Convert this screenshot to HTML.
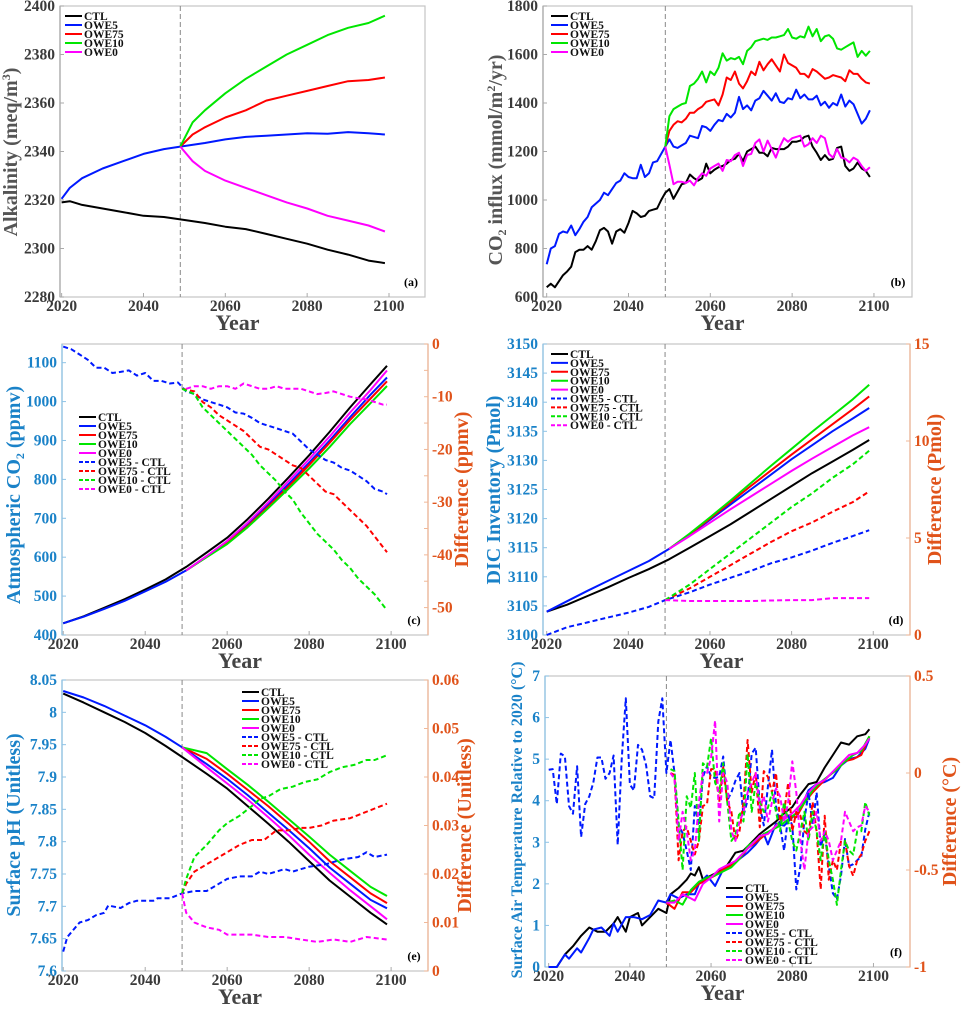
<!DOCTYPE html>
<html><head><meta charset="utf-8"><style>
body{margin:0;background:#fff;}
svg{display:block;font-family:"Liberation Serif",serif;font-weight:bold;}
</style></head><body>
<svg id="fig" width="966" height="1009" viewBox="0 0 966 1009" xmlns="http://www.w3.org/2000/svg"></svg>
<script>
function seq(a,b){const r=[];for(let i=a;i<=b;i++)r.push(i);return r;}
// ---------- Panel (a) alkalinity ----------
const aCtlYears=[2020,2022,2025,2030,2035,2040,2045,2049,2055,2060,2065,2070,2075,2080,2085,2090,2095,2099];
const aCtl=[2319,2319.5,2318,2316.5,2315,2313.5,2313,2312,2310.5,2309,2308,2306,2304,2302,2299.5,2297.5,2295,2294];
const aOwe5Years=[2020,2022,2025,2030,2035,2040,2045,2049,2055,2060,2065,2070,2075,2080,2085,2090,2095,2099];
const aOwe5=[2320.5,2325,2329,2333,2336,2339,2341,2342,2343.5,2345,2346,2346.5,2347,2347.5,2347.3,2348,2347.5,2347];
const aPostYears=[2049,2052,2055,2060,2065,2070,2075,2080,2085,2090,2095,2099];
const aOwe10=[2342,2352,2357,2364,2370,2375,2380,2384,2388,2391,2393,2396];
const aOwe75=[2342,2347,2350,2354,2357,2361,2363,2365,2367,2369,2369.5,2370.5];
const aOwe0=[2342,2336,2332,2328,2325,2322,2319,2316.5,2313.5,2311.5,2309.5,2307];
const aYTicks=[2280,2300,2320,2340,2360,2380,2400];
const xTicks=[2020,2040,2060,2080,2100];
// ---------- Panel (b) CO2 influx ----------
const bYears=seq(2020,2099);
const bPostYears=seq(2049,2099);
const bOwe5=[735,800,810,860,870,865,895,855,880,910,930,970,985,1000,1030,1020,1045,1070,1080,1110,1095,1090,1090,1145,1095,1110,1155,1160,1190,1220,1250,1220,1215,1225,1235,1265,1260,1255,1305,1300,1285,1310,1330,1325,1355,1340,1360,1425,1375,1390,1370,1410,1420,1450,1430,1410,1440,1405,1400,1420,1415,1455,1420,1435,1415,1415,1430,1390,1405,1380,1400,1390,1435,1385,1410,1395,1355,1315,1335,1370];
const bCtl=[640,655,640,665,690,705,725,785,795,795,810,795,830,875,885,870,820,870,880,865,905,955,945,930,935,955,960,965,1000,1030,1045,1005,1035,1065,1070,1105,1090,1080,1090,1150,1110,1125,1135,1140,1150,1165,1170,1190,1160,1200,1210,1220,1195,1195,1180,1215,1210,1210,1210,1220,1240,1240,1245,1260,1265,1220,1195,1165,1185,1165,1170,1215,1220,1140,1120,1130,1155,1130,1120,1095];
const bOwe10=[1220,1345,1375,1385,1395,1400,1470,1480,1500,1530,1485,1530,1515,1545,1605,1575,1585,1580,1590,1560,1615,1630,1655,1660,1665,1660,1670,1670,1675,1680,1705,1670,1665,1675,1670,1715,1675,1705,1655,1675,1680,1665,1625,1620,1630,1640,1650,1590,1615,1595,1615];
const bOwe75=[1220,1285,1310,1325,1320,1335,1360,1360,1375,1385,1405,1410,1415,1390,1435,1505,1495,1530,1480,1460,1490,1530,1515,1570,1535,1560,1580,1555,1530,1600,1565,1555,1545,1520,1520,1505,1540,1530,1515,1500,1505,1515,1510,1505,1490,1535,1520,1520,1500,1485,1480];
const bOwe0=[1220,1145,1065,1075,1075,1070,1080,1060,1090,1110,1100,1130,1140,1150,1120,1165,1160,1185,1195,1140,1185,1190,1235,1250,1200,1245,1210,1175,1220,1255,1240,1255,1260,1265,1220,1230,1255,1235,1265,1255,1190,1175,1210,1175,1170,1155,1175,1165,1140,1120,1135];
const bYTicks=[600,800,1000,1200,1400,1600,1800];
// ---------- Panel (c) atmospheric CO2 ----------
const cYears=[2020,2025,2030,2035,2040,2045,2050,2055,2060,2065,2070,2075,2080,2085,2090,2095,2099];
const cPostYears=[2050,2055,2060,2065,2070,2075,2080,2085,2090,2095,2099];
const cCtl=[430,448,470,492,517,543,575,612,650,698,750,805,862,922,985,1045,1092];
const cOwe5=[430,447,467,488,512,537,566,602,638,684,735,788,843,900,960,1018,1062];
const cOwe75=[566,601,636,680,730,782,837,894,953,1008,1052];
const cOwe10=[566,600,634,677,726,776,828,883,942,996,1040];
const cOwe0=[566,603,642,689,741,796,852,910,972,1030,1080];
const cD5Years=[2020,2022,2024,2026,2028,2030,2032,2034,2036,2038,2040,2042,2044,2046,2048,2050,2052,2054,2056,2058,2060,2062,2064,2066,2068,2070,2072,2074,2076,2078,2080,2082,2084,2086,2088,2090,2092,2094,2096,2098,2099];
const cD5=[-0.5,-1,-2,-3,-4.5,-4.5,-5.5,-5.3,-5,-6,-5.5,-7,-7,-7.5,-7.3,-9,-9.5,-10.5,-11,-11.5,-12,-13,-13.2,-14,-15,-15.5,-16,-16.5,-17,-18.5,-20,-21,-22,-22.5,-23.5,-24,-25,-26,-27.5,-28,-28.5];
const cDPostYears=[2049,2052,2054,2056,2058,2060,2062,2064,2066,2068,2070,2072,2074,2076,2078,2080,2082,2084,2086,2088,2090,2092,2094,2096,2098,2099];
const cD75=[-8.5,-9,-11,-12,-13.5,-14.5,-15.5,-16.5,-18,-19.5,-20,-21,-22,-23,-23.5,-25,-26.5,-28,-28.5,-30,-31.5,-33,-34.5,-36.5,-38.5,-39.5];
const cD10=[-8.5,-9.5,-12,-13.5,-15,-16.5,-18,-19.5,-21,-23,-24.5,-26,-28,-29.5,-32,-34,-36,-37.5,-39,-41,-42.5,-44.5,-46,-47.5,-49.5,-50.5];
const cD0Years=[2050,2052,2054,2056,2058,2060,2062,2064,2066,2068,2070,2072,2074,2076,2078,2080,2082,2084,2086,2088,2090,2092,2094,2096,2098,2099];
const cD0=[-8.5,-8,-8,-8.5,-8,-8,-8.5,-7.5,-8,-8.5,-8.5,-8,-8.5,-8.5,-8.5,-9,-9.5,-9.3,-9,-9.5,-10,-10.3,-10.5,-11,-11.5,-11.5];
const cYTicks=[400,500,600,700,800,900,1000,1100];
const cRTicks=[0,-10,-20,-30,-40,-50];
// ---------- Panel (d) DIC inventory ----------
const dYears=[2020,2025,2030,2035,2040,2045,2050,2055,2060,2065,2070,2075,2080,2085,2090,2095,2099];
const dPostYears=[2050,2055,2060,2065,2070,2075,2080,2085,2090,2095,2099];
const dCtl=[3104,3105.2,3106.7,3108.2,3109.8,3111.3,3113,3115,3117,3119,3121.2,3123.4,3125.6,3127.8,3129.8,3131.8,3133.5];
const dOwe5=[3104,3105.8,3107.6,3109.3,3111,3112.7,3114.8,3117.2,3119.8,3122.4,3125,3127.6,3130.2,3132.6,3135,3137.2,3139];
const dOwe75=[3114.8,3117.3,3120,3122.8,3125.6,3128.3,3131,3133.6,3136.2,3138.8,3141];
const dOwe10=[3114.8,3117.4,3120.2,3123.1,3126.1,3129.1,3132,3134.9,3137.7,3140.5,3143];
const dOwe0=[3114.8,3117,3119.3,3121.6,3123.8,3126,3128.2,3130.3,3132.3,3134.3,3135.7];
const dD5Years=[2020,2025,2030,2035,2040,2045,2049,2055,2060,2065,2070,2075,2080,2085,2090,2095,2099];
const dD5=[0,0.4,0.65,0.9,1.15,1.45,1.8,2.2,2.6,2.95,3.3,3.7,4.0,4.35,4.75,5.1,5.4];
const dDPostYears=[2049,2055,2060,2065,2070,2075,2080,2085,2090,2095,2099];
const dD75=[1.8,2.4,3.0,3.6,4.2,4.8,5.35,5.8,6.35,6.85,7.4];
const dD10=[1.8,2.6,3.4,4.2,5.0,5.8,6.6,7.3,8.1,8.8,9.5];
const dD0=[1.8,1.75,1.75,1.75,1.75,1.78,1.8,1.8,1.9,1.9,1.9];
const dYTicks=[3100,3105,3110,3115,3120,3125,3130,3135,3140,3145,3150];
const dRTicks=[0,5,10,15];
// ---------- Panel (e) surface pH ----------
const eYears=[2020,2025,2030,2035,2040,2045,2049,2055,2060,2065,2070,2075,2080,2085,2090,2095,2099];
const eCtl=[8.029,8.015,8.0,7.985,7.968,7.948,7.931,7.905,7.882,7.855,7.828,7.8,7.77,7.74,7.715,7.69,7.672];
const eOwe5=[8.033,8.023,8.01,7.995,7.98,7.962,7.946,7.92,7.897,7.872,7.845,7.818,7.79,7.76,7.735,7.71,7.697];
const ePostYears=[2049,2055,2060,2065,2070,2075,2080,2085,2090,2095,2099];
const eOwe75=[7.946,7.928,7.905,7.88,7.855,7.828,7.80,7.77,7.745,7.72,7.705];
const eOwe10=[7.946,7.937,7.912,7.888,7.862,7.835,7.808,7.78,7.755,7.73,7.716];
const eOwe0=[7.946,7.915,7.89,7.865,7.838,7.81,7.78,7.752,7.725,7.7,7.68];
const eD5Years=[2020,2021,2022,2024,2026,2028,2030,2031,2034,2036,2038,2040,2042,2043,2046,2049,2052,2055,2058,2060,2063,2066,2068,2070,2074,2076,2080,2084,2088,2092,2094,2096,2099];
const eD5=[0.004,0.007,0.008,0.01,0.0105,0.0115,0.012,0.0135,0.013,0.014,0.0145,0.0145,0.0145,0.015,0.015,0.016,0.0165,0.0165,0.018,0.019,0.0195,0.0195,0.0205,0.02,0.021,0.0205,0.0215,0.022,0.023,0.0235,0.0245,0.0235,0.024];
const eD75Years=[2049,2050,2052,2055,2058,2060,2063,2066,2069,2072,2075,2078,2080,2083,2086,2090,2093,2096,2099];
const eD75=[0.016,0.018,0.0205,0.022,0.0235,0.0245,0.026,0.027,0.027,0.029,0.029,0.0295,0.0295,0.030,0.031,0.0315,0.0325,0.0335,0.0345];
const eD10Years=[2049,2050,2052,2055,2058,2060,2063,2066,2068,2070,2073,2076,2079,2082,2085,2088,2091,2094,2096,2099];
const eD10=[0.016,0.019,0.0235,0.026,0.029,0.0305,0.032,0.034,0.0355,0.036,0.0375,0.038,0.039,0.0395,0.041,0.042,0.0425,0.0435,0.0435,0.0445];
const eD0Years=[2049,2050,2052,2055,2058,2060,2063,2066,2070,2074,2078,2082,2086,2090,2094,2099];
const eD0=[0.016,0.012,0.01,0.009,0.0085,0.0075,0.0075,0.0075,0.007,0.007,0.0065,0.006,0.0065,0.006,0.007,0.0065];
const eYTicks=[7.6,7.65,7.7,7.75,7.8,7.85,7.9,7.95,8,8.05];
const eYTickLabels=["7.6","7.65","7.7","7.75","7.8","7.85","7.9","7.95","8","8.05"];
const eRTicks=[0,0.01,0.02,0.03,0.04,0.05,0.06];
// ---------- Panel (f) surface air temperature ----------
const fCtlYears=[2020,2022,2024,2026,2028,2030,2032,2034,2036,2037,2039,2040,2042,2043,2045,2047,2049,2050,2052,2054,2055,2056,2057,2058,2060,2062,2064,2066,2068,2070,2072,2074,2076,2078,2080,2082,2084,2086,2088,2090,2092,2094,2096,2098,2099];
const fCtl=[0,0,0.3,0.5,0.75,0.95,0.85,0.85,1.05,1.2,0.85,1.2,1.3,1.0,1.2,1.4,1.3,1.75,1.9,2.1,2.25,2.2,2.4,2.1,2.2,2.3,2.45,2.75,2.8,3.0,3.2,3.35,3.5,3.7,3.85,4.15,4.4,4.45,4.8,5.1,5.4,5.35,5.55,5.6,5.72];
const fOwe5Years=[2020,2022,2024,2025,2027,2028,2030,2031,2033,2035,2036,2037,2039,2041,2043,2045,2047,2049,2050,2052,2054,2056,2057,2059,2061,2063,2065,2067,2069,2071,2073,2074,2076,2078,2080,2082,2084,2086,2088,2090,2092,2094,2096,2098,2099];
const fOwe5=[0,0,0.3,0.2,0.45,0.35,0.7,0.9,0.95,0.75,1.05,0.85,1.2,1.2,1.15,1.25,1.6,1.55,1.75,1.65,1.75,1.75,2.0,2.2,1.95,2.35,2.45,2.6,2.75,2.95,3.2,2.95,3.45,3.4,3.6,3.8,4.25,4.4,4.45,4.55,4.85,5.0,5.05,5.25,5.5];
const fPostYears=[2049,2051,2053,2055,2057,2059,2061,2063,2065,2067,2069,2071,2073,2075,2077,2079,2081,2083,2085,2087,2089,2091,2093,2095,2097,2099];
const fOwe75=[1.55,1.4,1.8,1.8,2.0,2.1,2.2,2.35,2.45,2.6,2.85,3.0,3.15,3.3,3.5,3.65,3.6,3.95,4.2,4.4,4.6,4.75,4.95,5.0,5.1,5.55];
const fOwe10=[1.55,1.6,1.5,1.85,2.05,2.15,2.2,2.3,2.4,2.6,2.9,3.05,3.2,3.3,3.4,3.55,3.7,3.95,4.25,4.45,4.6,4.75,4.95,5.1,5.2,5.55];
const fOwe0Years=[2049,2051,2053,2055,2056,2058,2060,2062,2064,2066,2068,2070,2072,2074,2076,2078,2080,2082,2084,2086,2088,2090,2092,2094,2096,2098,2099];
const fOwe0=[1.55,1.55,1.75,1.65,1.6,2.0,2.15,2.35,2.45,2.55,2.75,2.95,3.15,3.2,3.4,3.55,3.7,3.9,4.2,4.4,4.5,4.7,4.9,5.1,5.15,5.35,5.5];
const fD5Years=seq(2020,2099);
const fD5=[0.017,0.02,-0.16,0.1,0.085,-0.17,-0.21,0.035,-0.33,-0.16,-0.12,-0.05,0.08,0.08,-0.03,0,0.09,-0.37,0.07,0.385,-0.06,-0.09,0.145,0.12,0.04,-0.12,-0.13,0.265,0.385,0,0.17,0,-0.27,-0.31,-0.4,-0.5,-0.17,-0.27,-0.02,0.035,-0.02,-0.025,-0.02,0.085,-0.14,-0.1,-0.04,0,-0.22,-0.14,0.1,0.13,-0.17,-0.27,-0.07,0.12,-0.17,-0.27,-0.4,-0.22,-0.27,-0.6,-0.48,-0.24,-0.1,-0.27,-0.1,-0.38,-0.31,-0.48,-0.62,-0.65,-0.53,-0.34,-0.48,-0.47,-0.45,-0.43,-0.29,-0.2];
const fDPostYears=seq(2050,2099);
const fD75=[0,-0.01,-0.45,-0.3,-0.28,-0.35,-0.42,-0.35,-0.17,-0.16,0.02,0.02,-0.15,0.03,-0.15,-0.2,-0.35,-0.3,-0.15,0.17,-0.1,0,-0.28,0.01,-0.02,-0.1,0.0,-0.25,-0.2,-0.05,-0.3,-0.2,-0.22,-0.3,-0.32,-0.15,-0.3,-0.6,-0.22,-0.55,-0.45,-0.5,-0.35,-0.35,-0.48,-0.53,-0.45,-0.42,-0.35,-0.3];
const fD10=[0.02,0.01,-0.25,-0.5,-0.12,-0.18,0.0,-0.35,0.05,0.03,0.18,-0.05,-0.1,0.05,-0.15,-0.35,-0.32,-0.2,-0.25,0.1,-0.2,-0.05,-0.15,-0.2,-0.18,-0.1,-0.2,-0.3,-0.15,-0.25,-0.35,-0.4,-0.3,-0.2,-0.35,-0.2,-0.3,-0.45,-0.3,-0.45,-0.55,-0.68,-0.5,-0.35,-0.4,-0.42,-0.3,-0.3,-0.15,-0.22];
const fD0=[0,-0.03,-0.35,-0.2,-0.3,-0.45,-0.4,-0.15,0.0,0.0,0.08,0.27,-0.25,0.0,-0.05,-0.3,-0.35,-0.25,-0.2,-0.1,-0.05,0.0,-0.18,-0.12,-0.25,-0.15,-0.08,-0.12,-0.25,-0.15,0.06,-0.1,-0.35,-0.5,-0.3,-0.28,-0.2,-0.35,-0.3,-0.35,-0.45,-0.4,-0.35,-0.2,-0.25,-0.3,-0.28,-0.27,-0.17,-0.2];
const fYTicks=[0,1,2,3,4,5,6,7];
const fRTicks=[0.5,0,-0.5,-1];

const legendNames=["CTL","OWE5","OWE75","OWE10","OWE0","OWE5 - CTL","OWE75 - CTL","OWE10 - CTL","OWE0 - CTL"];
const COL={k:"#000",b:"#0019ff",r:"#ff0000",g:"#00e600",m:"#ff00ff"};
const BLUE="#1a82c8", ORANGE="#e0531a", GREY="#3a3a3a";
const NS="http://www.w3.org/2000/svg";
const svg=document.getElementById("fig");
function el(tag,attrs,parent,text){const e=document.createElementNS(NS,tag);for(const k in attrs)e.setAttribute(k,attrs[k]);if(text!==undefined)e.textContent=text;(parent||svg).appendChild(e);return e;}

function panel(p){
  const g=el("g",{},svg);
  
  
  const sx=v=>p.L+(v-p.x0)/(p.x1-p.x0)*(p.R-p.L);
  const sy=v=>p.B-(v-p.y0)/(p.y1-p.y0)*(p.B-p.T);
  const sr=p.r0!==undefined?(v=>p.B-(v-p.r0)/(p.r1-p.r0)*(p.B-p.T)):null;
  const frame=el("rect",{x:p.L,y:p.T,width:p.R-p.L,height:p.B-p.T,fill:"none",stroke:"#c4c4c4","stroke-width":1.2},g);
  
  
  const lc=p.dual?"#8ec3e6":"#aaa";
  const la=el("line",{x1:p.L,y1:p.T,x2:p.L,y2:p.B,stroke:lc,"stroke-width":1.3},g);
  
  
  xTicks.forEach(t=>{
    const x=sx(t);
    el("line",{x1:x,y1:p.B,x2:x,y2:p.B-4,stroke:"#aaa"},g);
    const tl=el("text",{x:x,y:p.B+14,"text-anchor":"middle","font-size":15.5,fill:GREY},g,String(t));
    
    
  });
  p.yt.forEach((t,i)=>{
    const y=sy(t);
    el("line",{x1:p.L,y1:y,x2:p.L+4,y2:y,stroke:lc},g);
    const tl=el("text",{x:p.L-5,y:y+5,"text-anchor":"end","font-size":15.5,fill:p.dual?BLUE:GREY},g,p.ytl?p.ytl[i]:String(t));
    
    
  });
  if(sr){
    const ra=el("line",{x1:p.R,y1:p.T,x2:p.R,y2:p.B,stroke:"#f0b898","stroke-width":1.3},g);
    
    
    if(p.rminor)p.rminor.forEach(t=>{const y=sr(t);el("line",{x1:p.R,y1:y,x2:p.R-4,y2:y,stroke:"#f0b898"},g);});
    p.rt.forEach(t=>{
      const y=sr(t);
      el("line",{x1:p.R,y1:y,x2:p.R-4,y2:y,stroke:"#f0b898"},g);
      const tl=el("text",{x:p.R+4,y:y+5,"font-size":15.5,fill:ORANGE},g,String(t));
      
      
    });
    const rl=el("text",{transform:`translate(${p.rlx},${(p.T+p.B)/2}) rotate(-90)`,"text-anchor":"middle","font-size":20,fill:ORANGE},g,p.rlabel);
    
    
  }
  const vl=el("line",{x1:sx(2049),y1:p.T,x2:sx(2049),y2:p.B,stroke:"#888","stroke-width":1,"stroke-dasharray":"5,3"},g);
  
  
  p.series.forEach(s=>{
    const f=s.right?sr:sy;
    const d=s.x.map((xv,i)=>(i?"L":"M")+sx(xv).toFixed(1)+","+f(s.y[i]).toFixed(1)).join("");
    const pa=el("path",{d:d,fill:"none",stroke:COL[s.c],"stroke-width":2,"stroke-linejoin":"round","stroke-dasharray":s.right?"5,3":"none"},g);
    
    
  });
  const lg=el("g",{},g);
  
  
  const cs=["k","b","r","g","m","b","r","g","m"];
  for(let i=0;i<p.nleg;i++){
    const y=p.lgy+i*p.lgs;
    el("line",{x1:p.lgx,y1:y,x2:p.lgx+17,y2:y,stroke:COL[cs[i]],"stroke-width":2,"stroke-dasharray":i>=5?"4,2":"none"},lg);
    const t=el("text",{x:p.lgx+19,y:y+4,"font-size":11.5,fill:"#111"},lg,legendNames[i]);
    
    
  }
  const tag=el("text",{x:p.R-14,y:p.B-11,"text-anchor":"middle","font-size":12,fill:"#000"},g,p.tag);
  
  
  const xl=el("text",{x:(p.L+p.R)/2-5,y:p.B+33+(p.xly||0),"text-anchor":"middle","font-size":22,fill:"#444"},g,"Year");
  
  
  const yl=el("text",{transform:`translate(${p.llx},${p.lly||(p.T+p.B)/2}) rotate(-90)`,"text-anchor":"middle","font-size":p.lfs||20,fill:p.dual?BLUE:"#555"},g);
  
  
  p.llabel.forEach(part=>{el("tspan",part.sub?{"font-size":12,dy:4}:part.sup?{"font-size":12,dy:-7}:part.back?{dy:part.back}:{},yl,part.t);});
}

panel({id:"a",L:60,R:425,T:6,B:297,x0:2019.6,x1:2108.8,y0:2280,y1:2400,yt:aYTicks,llx:17,lly:152,
  llabel:[{t:"Alkalinity (meq/m"},{t:"3",sup:1},{t:")",back:7}],
  series:[{x:aCtlYears,y:aCtl,c:"k",n:"CTL"},{x:aOwe5Years,y:aOwe5,c:"b",n:"OWE5"},{x:aPostYears,y:aOwe75,c:"r",n:"OWE75"},{x:aPostYears,y:aOwe10,c:"g",n:"OWE10"},{x:aPostYears,y:aOwe0,c:"m",n:"OWE0"}],
  nleg:5,lgx:65,lgy:16,lgs:9,tag:"(a)"});
panel({id:"b",L:543,R:912,T:6,B:297,x0:2019.1,x1:2109.3,y0:600,y1:1800,yt:bYTicks,llx:502,lly:160,
  llabel:[{t:"CO"},{t:"2",sub:1},{t:" influx (mmol/m",back:-4},{t:"2",sup:1},{t:"/yr)",back:7}],
  series:[{x:bYears,y:bCtl,c:"k",n:"CTL"},{x:bYears,y:bOwe5,c:"b",n:"OWE5"},{x:bPostYears,y:bOwe75,c:"r",n:"OWE75"},{x:bPostYears,y:bOwe10,c:"g",n:"OWE10"},{x:bPostYears,y:bOwe0,c:"m",n:"OWE0"}],
  nleg:5,lgx:551,lgy:16,lgs:9,tag:"(b)"});
panel({id:"c",dual:1,L:62,R:428,T:344,B:635,x0:2019.7,x1:2109,y0:400,y1:1148,yt:cYTicks,r0:-55.2,r1:0,rt:cRTicks,rminor:[-5,-15,-25,-35,-45],
  rlx:468,rlabel:"Difference (ppmv)",llx:20,lly:495,
  llabel:[{t:"Atmospheric CO"},{t:"2",sub:1},{t:" (ppmv)",back:-4}],
  series:[{x:cYears,y:cCtl,c:"k",n:"CTL"},{x:cYears,y:cOwe5,c:"b",n:"OWE5"},{x:cPostYears,y:cOwe75,c:"r",n:"OWE75"},{x:cPostYears,y:cOwe10,c:"g",n:"OWE10"},{x:cPostYears,y:cOwe0,c:"m",n:"OWE0"},
    {x:cD5Years,y:cD5,c:"b",n:"OWE5 - CTL",right:1},{x:cDPostYears,y:cD75,c:"r",n:"OWE75 - CTL",right:1},{x:cDPostYears,y:cD10,c:"g",n:"OWE10 - CTL",right:1},{x:cD0Years,y:cD0,c:"m",n:"OWE0 - CTL",right:1}],
  nleg:9,lgx:79,lgy:417,lgs:9,tag:"(c)"});
panel({id:"d",dual:1,L:543,R:910,T:344,B:635,x0:2019.1,x1:2109,y0:3100,y1:3150,yt:dYTicks,r0:0,r1:15,rt:dRTicks,
  rlx:941,rlabel:"Difference (Pmol)",llx:500,lly:490,
  llabel:[{t:"DIC Inventory (Pmol)"}],
  series:[{x:dYears,y:dCtl,c:"k",n:"CTL"},{x:dYears,y:dOwe5,c:"b",n:"OWE5"},{x:dPostYears,y:dOwe75,c:"r",n:"OWE75"},{x:dPostYears,y:dOwe10,c:"g",n:"OWE10"},{x:dPostYears,y:dOwe0,c:"m",n:"OWE0"},
    {x:dD5Years,y:dD5,c:"b",n:"OWE5 - CTL",right:1},{x:dDPostYears,y:dD75,c:"r",n:"OWE75 - CTL",right:1},{x:dDPostYears,y:dD10,c:"g",n:"OWE10 - CTL",right:1},{x:dDPostYears,y:dD0,c:"m",n:"OWE0 - CTL",right:1}],
  nleg:9,lgx:551,lgy:354,lgs:8.9,tag:"(d)"});
panel({id:"e",dual:1,L:62,R:428,T:680,B:971,x0:2019.7,x1:2109,y0:7.6,y1:8.05,yt:eYTicks,ytl:eYTickLabels,r0:0,r1:0.06,rt:eRTicks,
  rlx:471,rlabel:"Difference (Unitless)",llx:20,lly:825,
  llabel:[{t:"Surface pH (Unitless)"}],xly:0,
  series:[{x:eYears,y:eCtl,c:"k",n:"CTL"},{x:eYears,y:eOwe5,c:"b",n:"OWE5"},{x:ePostYears,y:eOwe75,c:"r",n:"OWE75"},{x:ePostYears,y:eOwe10,c:"g",n:"OWE10"},{x:ePostYears,y:eOwe0,c:"m",n:"OWE0"},
    {x:eD5Years,y:eD5,c:"b",n:"OWE5 - CTL",right:1},{x:eD75Years,y:eD75,c:"r",n:"OWE75 - CTL",right:1},{x:eD10Years,y:eD10,c:"g",n:"OWE10 - CTL",right:1},{x:eD0Years,y:eD0,c:"m",n:"OWE0 - CTL",right:1}],
  nleg:9,lgx:242,lgy:692,lgs:9,tag:"(e)"});
panel({id:"f",dual:1,L:545,R:910,T:676,B:967,x0:2019.1,x1:2109,y0:0,y1:7,yt:fYTicks,r0:-1,r1:0.5,rt:fRTicks,
  rlx:956,rlabel:"Difference (°C)",llx:522,lly:820,lfs:16,
  llabel:[{t:"Surface Air Temperature Relative to 2020 (°C)"}],xly:0,
  series:[{x:fCtlYears,y:fCtl,c:"k",n:"CTL"},{x:fOwe5Years,y:fOwe5,c:"b",n:"OWE5"},{x:fPostYears,y:fOwe75,c:"r",n:"OWE75"},{x:fPostYears,y:fOwe10,c:"g",n:"OWE10"},{x:fOwe0Years,y:fOwe0,c:"m",n:"OWE0"},
    {x:fD5Years,y:fD5,c:"b",n:"OWE5 - CTL",right:1},{x:fDPostYears,y:fD75,c:"r",n:"OWE75 - CTL",right:1},{x:fDPostYears,y:fD10,c:"g",n:"OWE10 - CTL",right:1},{x:fDPostYears,y:fD0,c:"m",n:"OWE0 - CTL",right:1}],
  nleg:9,lgx:726,lgy:888,lgs:9,tag:"(f)"});
</script>
</body></html>
